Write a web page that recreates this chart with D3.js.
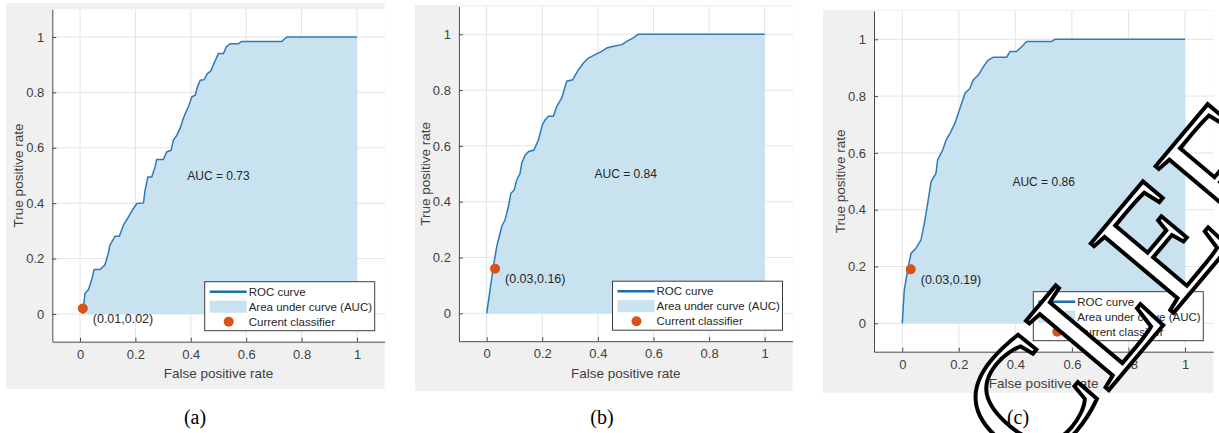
<!DOCTYPE html>
<html>
<head>
<meta charset="utf-8">
<script src="https://cdn.jsdelivr.net/npm/d3@7"></script>
<style>
  body { margin: 0; background: #fff; }
  text { font-family: "Liberation Sans", Arial, sans-serif; }
</style>
</head>
<body>
<script>
const w = 1219;
const h = 433;

// data
const panelLabels = ["(a)", "(b)", "(c)"];
const aucValues = [0.73, 0.84, 0.86];
const classifierFpr = [0.01, 0.03, 0.03];
const classifierTpr = [0.02, 0.16, 0.19];
const tickValues = [0, 0.2, 0.4, 0.6, 0.8, 1];
const legendLabels = ["ROC curve", "Area under curve (AUC)", "Current classifier"];

const rocFprA = [0.01, 0.018, 0.03, 0.042, 0.051, 0.072, 0.09, 0.102, 0.108, 0.127, 0.142, 0.157, 0.175, 0.193, 0.205, 0.229, 0.235, 0.245, 0.259, 0.271, 0.277, 0.301, 0.313, 0.329, 0.337, 0.349, 0.361, 0.371, 0.38, 0.392, 0.404, 0.416, 0.424, 0.434, 0.448, 0.46, 0.472, 0.486, 0.5, 0.518, 0.528, 0.542, 0.572, 0.584, 0.729, 0.735, 0.747, 1];
const rocTprA = [0, 0.075, 0.087, 0.123, 0.161, 0.161, 0.177, 0.219, 0.249, 0.281, 0.281, 0.321, 0.351, 0.381, 0.399, 0.401, 0.447, 0.495, 0.495, 0.531, 0.558, 0.558, 0.585, 0.591, 0.627, 0.645, 0.669, 0.7, 0.724, 0.75, 0.784, 0.79, 0.82, 0.844, 0.846, 0.868, 0.877, 0.91, 0.94, 0.94, 0.964, 0.976, 0.976, 0.984, 0.984, 0.99, 1, 1];

const rocFprB = [0, 0.012, 0.024, 0.036, 0.048, 0.054, 0.066, 0.078, 0.087, 0.099, 0.108, 0.12, 0.126, 0.138, 0.15, 0.17, 0.186, 0.2, 0.21, 0.222, 0.24, 0.252, 0.27, 0.288, 0.309, 0.33, 0.348, 0.366, 0.39, 0.414, 0.432, 0.456, 0.486, 0.504, 0.527, 0.545, 1];
const rocTprB = [0, 0.084, 0.167, 0.239, 0.287, 0.311, 0.335, 0.382, 0.43, 0.442, 0.478, 0.502, 0.538, 0.567, 0.579, 0.585, 0.621, 0.675, 0.693, 0.706, 0.706, 0.742, 0.772, 0.832, 0.837, 0.873, 0.897, 0.915, 0.927, 0.939, 0.951, 0.957, 0.963, 0.975, 0.987, 1, 1];

const rocFprC = [0, 0.007, 0.019, 0.031, 0.048, 0.066, 0.078, 0.09, 0.102, 0.119, 0.125, 0.143, 0.155, 0.172, 0.186, 0.198, 0.21, 0.222, 0.239, 0.251, 0.269, 0.287, 0.304, 0.322, 0.369, 0.381, 0.404, 0.422, 0.44, 0.528, 0.54, 1];
const rocTprC = [0, 0.117, 0.188, 0.246, 0.264, 0.293, 0.352, 0.423, 0.499, 0.528, 0.575, 0.61, 0.645, 0.675, 0.704, 0.739, 0.775, 0.81, 0.827, 0.857, 0.874, 0.904, 0.927, 0.937, 0.937, 0.957, 0.957, 0.974, 0.992, 0.992, 1, 1];

const rocFpr = [rocFprA, rocFprB, rocFprC];
const rocTpr = [rocTprA, rocTprB, rocTprC];

// where each panel sits on the page (pixels)
const layout = [
  { bg: [6, 3, 384.7, 389], xr: [52.3, 384.7], yr: [341.7, 9.3], cap: 195 },
  { bg: [415, 5, 792.5, 391], xr: [458.9, 792.5], yr: [341.2, 6.4], cap: 602 },
  { bg: [823, 10, 1213.3, 393], xr: [874, 1213.3], yr: [351.7, 10.9], cap: 1018 },
];

const lineColor = "#2b7bba";
const fillColor = "#c9e2ef";
const dotColor = "#d95319";
const textColor = "#404040";
const fmt = d3.format("~g");

//create our svg
let svg = d3.select("body").append("svg").attr("width", w).attr("height", h);

layout.forEach(function (L, i) {
  let g = svg.append("g");
  let x = d3.scaleLinear().domain([-0.1, 1.1]).range(L.xr);
  let y = d3.scaleLinear().domain([-0.1, 1.1]).range(L.yr);

  //grey figure background + white axes area
  g.append("rect")
    .attr("x", L.bg[0]).attr("y", L.bg[1])
    .attr("width", L.bg[2] - L.bg[0]).attr("height", L.bg[3] - L.bg[1])
    .attr("fill", "#f0f0f0");
  g.append("rect")
    .attr("x", x(-0.1)).attr("y", y(1.1))
    .attr("width", x(1.1) - x(-0.1)).attr("height", y(-0.1) - y(1.1))
    .attr("fill", "#fff");

  //grid
  g.selectAll(".vg").data(tickValues).enter().append("line")
    .attr("x1", d => x(d)).attr("x2", d => x(d))
    .attr("y1", y(1.1)).attr("y2", y(-0.1))
    .attr("stroke", "#e4e4e4");
  g.selectAll(".hg").data(tickValues).enter().append("line")
    .attr("y1", d => y(d)).attr("y2", d => y(d))
    .attr("x1", x(-0.1)).attr("x2", x(1.1))
    .attr("stroke", "#e4e4e4");

  let pts = rocFpr[i].map((f, k) => [f, rocTpr[i][k]]);

  //area under curve
  g.append("path")
    .datum(pts)
    .attr("d", d3.area().x(d => x(d[0])).y0(y(0)).y1(d => y(d[1])))
    .attr("fill", fillColor);

  //roc line
  g.append("path")
    .datum(pts)
    .attr("d", d3.line().x(d => x(d[0])).y(d => y(d[1])))
    .attr("fill", "none")
    .attr("stroke", lineColor)
    .attr("stroke-width", 1.5);

  //current classifier
  let cx = x(classifierFpr[i]);
  let cy = y(classifierTpr[i]);
  g.append("circle").attr("cx", cx).attr("cy", cy).attr("r", 5).attr("fill", dotColor);
  g.append("text")
    .attr("x", cx + 10).attr("y", cy + 10).attr("dy", "0.35em")
    .attr("font-size", 12.5).attr("fill", "#262626")
    .text("(" + classifierFpr[i].toFixed(2) + "," + classifierTpr[i].toFixed(2) + ")");

  //auc label
  g.append("text")
    .attr("x", x(0.5)).attr("y", y(0.5)).attr("dy", "0.35em")
    .attr("text-anchor", "middle")
    .attr("font-size", 12).attr("fill", "#262626")
    .text("AUC = " + aucValues[i].toFixed(2));

  //axes
  let xAxis = g.append("g")
    .attr("transform", "translate(0," + y(-0.1) + ")")
    .call(d3.axisBottom(x).tickValues(tickValues).tickFormat(fmt).tickSize(-4).tickSizeOuter(0).tickPadding(8));
  let yAxis = g.append("g")
    .attr("transform", "translate(" + x(-0.1) + ",0)")
    .call(d3.axisLeft(y).tickValues(tickValues).tickFormat(fmt).tickSize(-4).tickSizeOuter(0).tickPadding(8));
  [xAxis, yAxis].forEach(function (a) {
    a.attr("font-size", 13);
    a.select(".domain").attr("stroke", "#4a4a4a");
    a.selectAll(".tick line").attr("stroke", "#4a4a4a");
    a.selectAll(".tick text").attr("fill", textColor);
  });

  g.append("text")
    .attr("x", (x(-0.1) + x(1.1)) / 2).attr("y", y(-0.1) + 32).attr("dy", "0.35em")
    .attr("text-anchor", "middle").attr("font-size", 13.5).attr("fill", textColor)
    .text("False positive rate");
  g.append("text")
    .attr("transform", "translate(" + (x(-0.1) - 34) + "," + y(0.5) + ") rotate(-90)")
    .attr("dy", "0.35em")
    .attr("text-anchor", "middle").attr("font-size", 13.5).attr("fill", textColor)
    .text("True positive rate");

  //legend
  let lw = 170, lh = 49;
  let lx = x(1.1) - 10 - lw;
  let ly = y(-0.1) - 11 - lh;
  let leg = g.append("g").attr("transform", "translate(" + lx + "," + ly + ")");
  leg.append("rect").attr("width", lw).attr("height", lh)
    .attr("fill", "#fff").attr("stroke", "#3c3c3c").attr("stroke-width", 1);
  leg.append("line").attr("x1", 5).attr("x2", 42).attr("y1", 10).attr("y2", 10)
    .attr("stroke", "#1f6fa8").attr("stroke-width", 2.5);
  leg.append("rect").attr("x", 5).attr("y", 19).attr("width", 37).attr("height", 12)
    .attr("fill", fillColor);
  leg.append("circle").attr("cx", 24).attr("cy", 40).attr("r", 5).attr("fill", dotColor);
  leg.selectAll(".lt").data(legendLabels).enter().append("text")
    .attr("x", 44).attr("y", (d, k) => 10 + k * 15).attr("dy", "0.35em")
    .attr("font-size", 11.5).attr("fill", "#262626")
    .text(d => d);

  //caption
  svg.append("text")
    .attr("x", L.cap).attr("y", 424)
    .attr("text-anchor", "middle")
    .style("font-family", "'Liberation Serif', 'Times New Roman', serif")
    .attr("font-size", 20).attr("fill", "#000")
    .text(panelLabels[i]);
});

//watermark over the third panel
svg.append("text")
  .attr("transform", "translate(1035,478) rotate(-50)")
  .style("font-family", "'Liberation Serif', 'Times New Roman', serif")
  .attr("font-size", 165)
  .attr("fill", "#fff")
  .attr("stroke", "#000")
  .attr("stroke-width", 4)
  .text("CLEF");
</script>
</body>
</html>
